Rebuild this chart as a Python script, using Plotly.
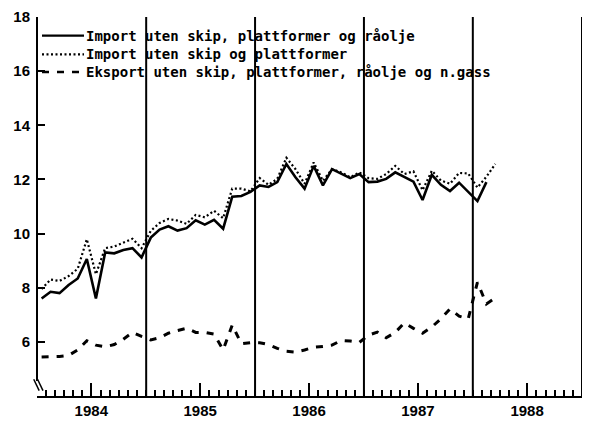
import pandas as pd
import plotly.graph_objects as go

# Monthly index values, January 1984 onwards
import_ex_ships_platforms_crude = [
    7.60, 7.85, 7.80, 8.10, 8.34, 9.06, 7.60, 9.30, 9.27, 9.39, 9.46, 9.12,
    9.85, 10.15, 10.27, 10.11, 10.20, 10.49, 10.33, 10.51, 10.18, 11.36, 11.39, 11.54,
    11.78, 11.72, 11.90, 12.57, 12.08, 11.66, 12.50, 11.78, 12.38, 12.23, 12.05, 12.20,
    11.90, 11.92, 12.02, 12.26, 12.10, 11.92, 11.24, 12.17, 11.80, 11.57, 11.88, 11.54,
    11.20, 11.90,
]
import_ex_ships_platforms = [
    7.95, 8.30, 8.25, 8.43, 8.70, 9.79, 8.50, 9.46, 9.52, 9.67, 9.81, 9.46,
    10.10, 10.39, 10.54, 10.48, 10.36, 10.69, 10.60, 10.84, 10.57, 11.66, 11.66, 11.56,
    12.05, 11.80, 12.02, 12.80, 12.38, 11.84, 12.63, 11.95, 12.38, 12.26, 12.08, 12.26,
    12.05, 12.02, 12.20, 12.50, 12.20, 12.30, 11.60, 12.32, 11.96, 11.84, 12.24, 12.22,
    11.70, 12.10, 12.57,
]
export_ex_ships_platforms_crude_gas = [
    5.44, 5.44, 5.46, 5.50, 5.70, 6.04, 5.88, 5.82, 5.90, 6.10, 6.35, 6.20,
    6.07, 6.15, 6.32, 6.42, 6.50, 6.35, 6.35, 6.29, 5.70, 6.62, 5.93, 5.97,
    5.97, 5.90, 5.76, 5.65, 5.62, 5.70, 5.80, 5.83, 5.88, 6.05, 6.03, 5.98,
    6.25, 6.36, 6.15, 6.35, 6.70, 6.50, 6.32, 6.55, 6.85, 7.22, 6.95, 6.85,
    8.20, 7.40, 7.62,
]

series_names = [
    "Import uten skip, plattformer og råolje",
    "Import uten skip og plattformer",
    "Eksport uten skip, plattformer, råolje og n.gass",
]
years = [1984, 1985, 1986, 1987, 1988]
y_ticks = [6, 8, 10, 12, 14, 16, 18]

W, H = 590, 427
M_L, M_R, M_T, M_B = 37, 8, 14, 27
PLOT_W = W - M_L - M_R
PLOT_H = H - M_T - M_B


def months(n):
    return pd.date_range("1984-01-01", periods=n, freq="MS")


def px_x(px):
    """Horizontal pixel offset from the plot's left edge -> paper coordinate."""
    return px / PLOT_W


def px_y(px):
    """Vertical pixel offset from the plot's top edge -> paper coordinate."""
    return 1 - px / PLOT_H


line_styles = [
    dict(color="black", width=2.6, dash="solid"),
    dict(color="black", width=2.2, dash="2px,2.5px"),
    dict(color="black", width=3, dash="7px,8px"),
]

fig = go.Figure()
for name, vals, line in zip(series_names,
                            [import_ex_ships_platforms_crude,
                             import_ex_ships_platforms,
                             export_ex_ships_platforms_crude_gas],
                            line_styles):
    fig.add_trace(go.Scatter(
        x=months(len(vals)), y=vals, name=name, mode="lines",
        line=line, xperiod="M1", xperiodalignment="middle",
    ))

shapes = []
# year separators and right frame
for yr in years[1:] + [years[-1] + 1]:
    shapes.append(dict(type="line", xref="x", yref="paper",
                       x0=f"{yr}-01-01", x1=f"{yr}-01-01", y0=0, y1=1,
                       line=dict(color="black", width=2)))
# left axis, broken near the bottom
shapes.append(dict(type="line", xref="paper", yref="y", x0=0, x1=0, y0=4.55, y1=18,
                   line=dict(color="black", width=2)))
for dx in (0.0, 0.007):
    shapes.append(dict(type="line", xref="paper", yref="y",
                       x0=-0.006 + dx, x1=0.004 + dx, y0=4.62, y1=4.2,
                       line=dict(color="black", width=1.5)))

# legend drawn as key lines plus labels in the upper-left corner
annotations = []
legend_rows = [19, 38, 56]
for name, line, row in zip(series_names, line_styles, legend_rows):
    shapes.append(dict(type="line", xref="paper", yref="paper",
                       x0=px_x(5), x1=px_x(47), y0=px_y(row), y1=px_y(row),
                       line=dict(color="black", width=min(line["width"], 2.4),
                                 dash=line["dash"])))
    annotations.append(dict(
        xref="paper", yref="paper", x=px_x(47), y=px_y(row),
        xanchor="left", yanchor="middle", text=name, showarrow=False,
        font=dict(family="DejaVu Sans Mono", size=14, color="black", weight="bold"),
    ))

fig.update_layout(
    width=W, height=H,
    margin=dict(l=M_L, r=M_R, t=M_T, b=M_B),
    paper_bgcolor="white", plot_bgcolor="white",
    shapes=shapes,
    annotations=annotations,
    showlegend=False,
    xaxis=dict(
        type="date",
        range=["1984-01-01", "1989-01-01"],
        tickvals=[f"{yr}-07-01" for yr in years],
        ticktext=[str(yr) for yr in years],
        ticks="inside", ticklen=13, tickwidth=1.5, tickcolor="black",
        minor=dict(ticks="inside", ticklen=6, tickwidth=1.5, tickcolor="black",
                   dtick="M1", tick0="1984-01-01"),
        showline=True, linewidth=2, linecolor="black",
        showgrid=False, zeroline=False,
        tickfont=dict(family="Liberation Sans", size=15, color="black", weight="bold"),
    ),
    yaxis=dict(
        range=[4, 18],
        tickvals=y_ticks,
        ticks="inside", ticklen=8, tickwidth=2, tickcolor="black",
        ticklabelstandoff=6,
        showline=False, showgrid=False, zeroline=False,
        tickfont=dict(family="Liberation Sans", size=15, color="black", weight="bold"),
    ),
)

fig.write_html("out.html")
